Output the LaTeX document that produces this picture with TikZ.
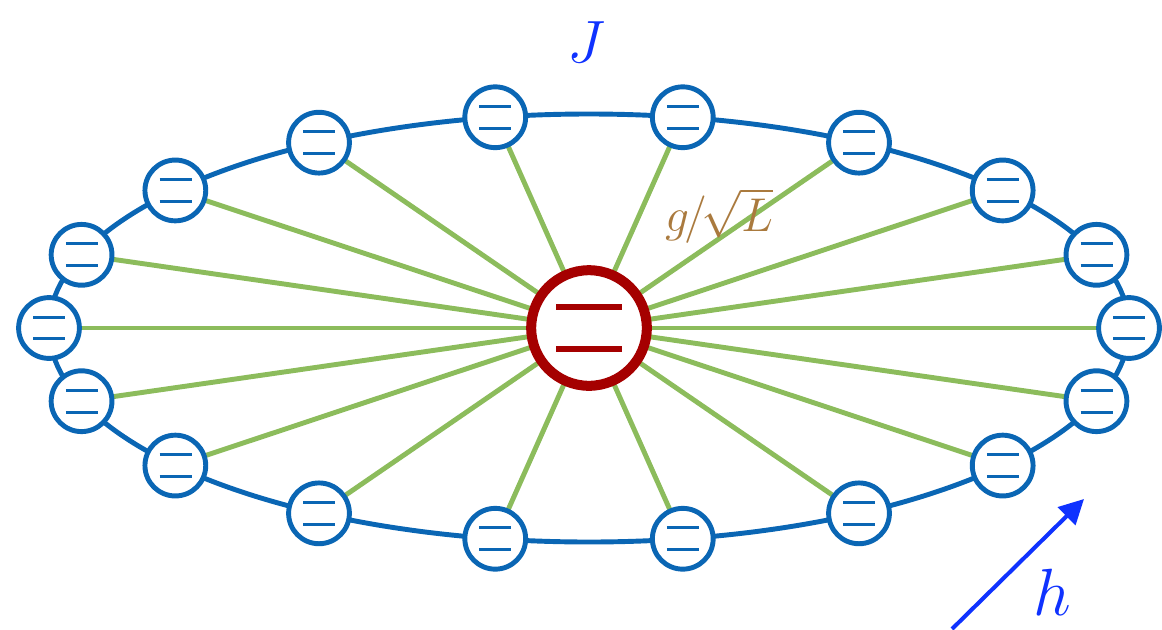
\RequirePackage{fix-cm}
\documentclass[tikz,border=0pt]{standalone}
\usetikzlibrary{arrows.meta,backgrounds}
\definecolor{ringblue}{RGB}{10,102,180}
\definecolor{linkgreen}{RGB}{140,188,92}
\definecolor{coredred}{RGB}{165,0,0}
\definecolor{couplbrown}{RGB}{170,122,62}
\definecolor{fieldblue}{RGB}{15,50,255}
\tikzset{
  site/.style={circle, draw=ringblue, line width=2.8pt, fill=white,
    minimum size=34.6pt, inner sep=0pt,
    path picture={
      \draw[ringblue, line width=1.7pt]
        ([xshift=-9pt,yshift=6.2pt]path picture bounding box.center) -- ++(18.2pt,0)
        ([xshift=-9pt,yshift=-6.2pt]path picture bounding box.center) -- ++(18.2pt,0);
    }},
  core/.style={circle, draw=coredred, line width=5.7pt, fill=white,
    minimum size=65.8pt, inner sep=0pt,
    path picture={
      \draw[coredred, line width=3.2pt]
        ([xshift=-18.7pt,yshift=11.9pt]path picture bounding box.center) -- ++(37.4pt,0)
        ([xshift=-18.7pt,yshift=-11.9pt]path picture bounding box.center) -- ++(37.4pt,0);
    }},
  link/.style={linkgreen, line width=2.8pt},
  ring/.style={ringblue, line width=2.8pt},
  field/.style={fieldblue, line width=2.3pt, -{Triangle[length=14pt,width=14pt]}}
}
\begin{document}
\begin{tikzpicture}[x=0.02cm, y=-0.02cm]
  \useasboundingbox (0,0) rectangle (1162,629);
  % central two-level system
  \node[core] (c) at (589,328) {};
  % ring of sites
  \foreach \i in {0,...,17} {
    \node[site] (s\i) at ({589+540*cos(20*\i)}, {328-214*sin(20*\i)}) {};
  }
  \begin{scope}[on background layer]
    \foreach \i in {0,...,17} {
      \draw[link] (c.center) -- (s\i.center);
    }
    \draw[ring] (589,328) ellipse [x radius=540, y radius=214];
  \end{scope}
  % labels
  \node[fieldblue, font=\fontsize{34}{40}\selectfont] (J) at (586,42) {$J$};
  \node[couplbrown, font=\fontsize{27}{32}\selectfont] (g) at (719,216)
    {$g\mkern-2mu/\mkern-2mu\sqrt{L}$};
  % external field
  \coordinate (hs) at (952,629);
  \coordinate (he) at (1084,499);
  \draw[field] (hs) -- (he);
  \node[fieldblue, font=\fontsize{38}{44}\selectfont] (h) at (1052,592) {$h$};
\end{tikzpicture}
\end{document}
